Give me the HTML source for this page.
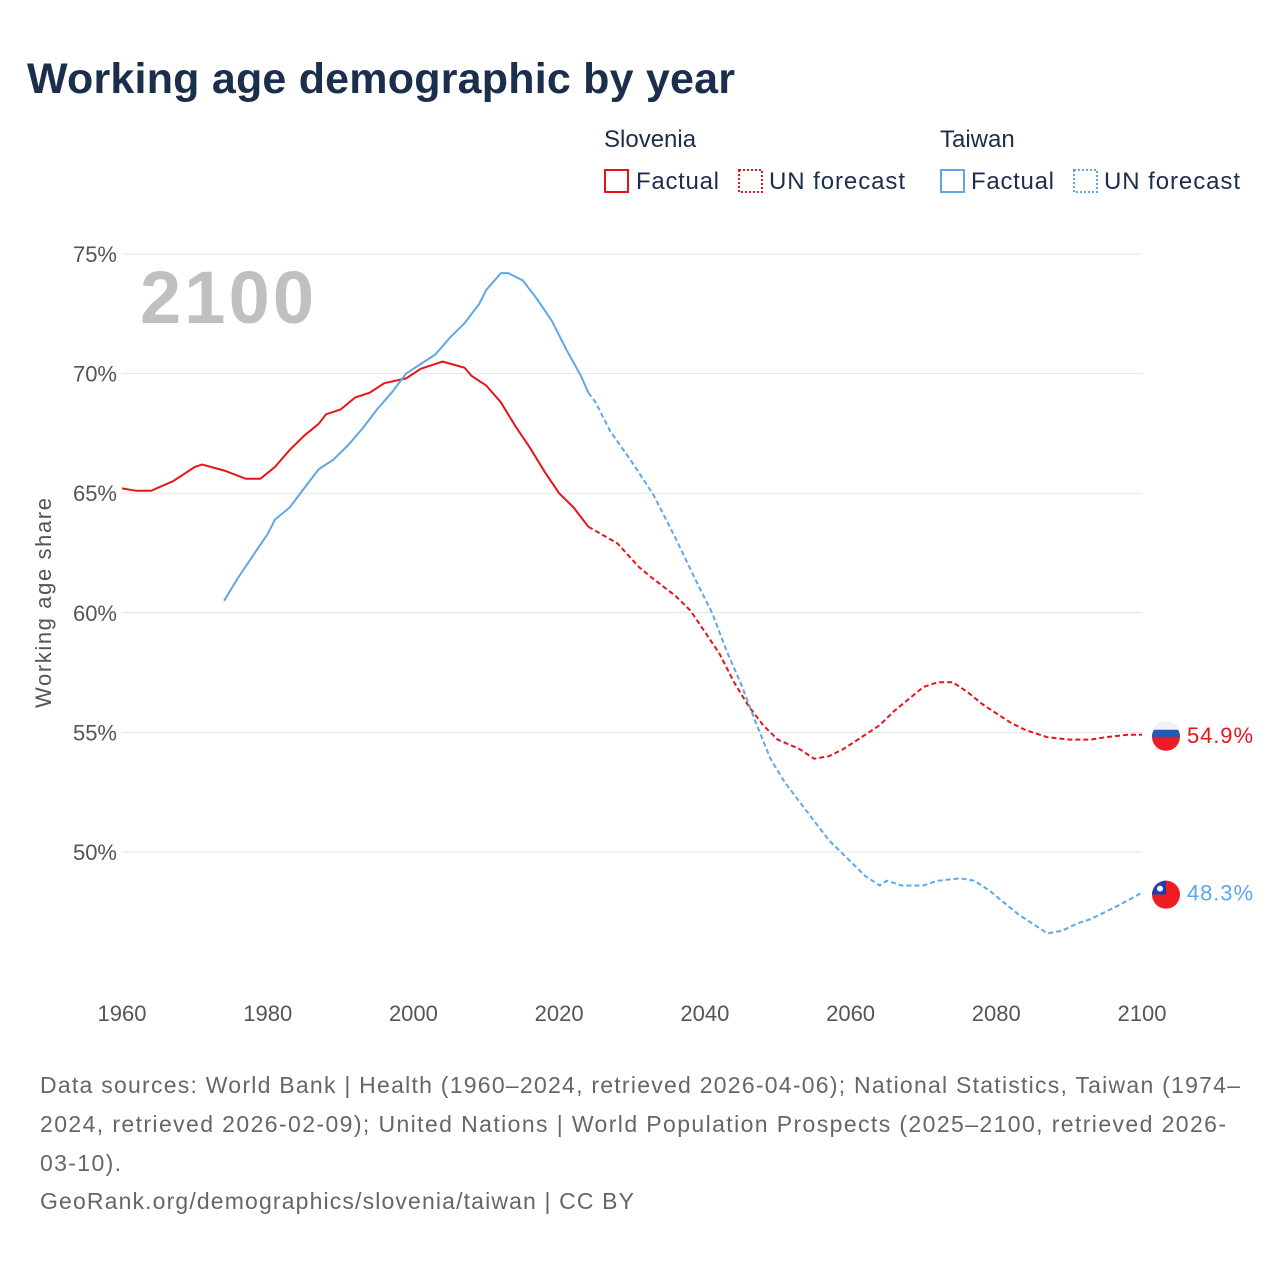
<!DOCTYPE html>
<html><head><meta charset="utf-8"><style>
body{margin:0;background:#fff;font-family:"Liberation Sans",sans-serif}
</style></head><body>
<svg id="c" width="1280" height="1280" xmlns="http://www.w3.org/2000/svg" style="font-family:'Liberation Sans',sans-serif">
<text x="27" y="93" font-size="43" font-weight="bold" fill="#1b2e4b" textLength="708">Working age demographic by year</text>
<g font-size="24" fill="#1b2e4b">
<text x="604" y="147">Slovenia</text>
<text x="940" y="147">Taiwan</text>
<rect x="605" y="170" width="23" height="22" fill="none" stroke="#e8141c" stroke-width="2"/>
<text x="636" y="189" textLength="83">Factual</text>
<rect x="739" y="170" width="23" height="22" fill="none" stroke="#e8141c" stroke-width="2" stroke-dasharray="2,2"/>
<text x="769" y="189" textLength="136">UN forecast</text>
<rect x="941" y="170" width="23" height="22" fill="none" stroke="#5ea8e8" stroke-width="2"/>
<text x="971" y="189" textLength="83">Factual</text>
<rect x="1074" y="170" width="23" height="22" fill="none" stroke="#5ea8e8" stroke-width="2" stroke-dasharray="2,2"/>
<text x="1104" y="189" textLength="136">UN forecast</text>
</g>
<g id="grid"></g>
<g id="yt" font-size="22" fill="#555" text-anchor="end"></g>
<g id="xt" font-size="22" fill="#555" text-anchor="middle"></g>
<text x="140" y="323" font-size="74" font-weight="bold" fill="#c0c0c0" textLength="174">2100</text>
<text transform="translate(51,603) rotate(-90)" font-size="22" fill="#555" text-anchor="middle" textLength="210">Working age share</text>
<g id="lines"></g>
<g font-size="23" fill="#666">
<text x="40" y="1093" textLength="1200">Data sources: World Bank | Health (1960–2024, retrieved 2026-04-06); National Statistics, Taiwan (1974–</text>
<text x="40" y="1132" textLength="1186">2024, retrieved 2026-02-09); United Nations | World Population Prospects (2025–2100, retrieved 2026-</text>
<text x="40" y="1171" textLength="81">03-10).</text>
<text x="40" y="1209" textLength="594">GeoRank.org/demographics/slovenia/taiwan | CC BY</text>
</g>
</svg>
<script>
const yTicks=[50,55,60,65,70,75];
const xTicks=[1960,1980,2000,2020,2040,2060,2080,2100];
const sloYears=[1960,1962,1964,1967,1970,1971,1974,1977,1979,1981,1983,1985,1987,1988,1990,1992,1994,1996,1999,2001,2004,2007,2008,2010,2012,2014,2016,2018,2020,2022,2023,2024,2028,2031,2033,2036,2038,2040,2042,2044,2046,2048,2050,2053,2055,2057,2059,2061,2064,2066,2068,2070,2072,2074,2076,2078,2080,2082,2084,2087,2090,2093,2095,2098,2100];
const sloValues=[65.2,65.1,65.1,65.5,66.1,66.2,65.95,65.6,65.6,66.1,66.8,67.4,67.9,68.3,68.5,69.0,69.2,69.6,69.8,70.2,70.5,70.25,69.9,69.5,68.8,67.8,66.9,65.9,65.0,64.4,64.0,63.6,62.9,61.9,61.4,60.7,60.1,59.2,58.3,57.1,56.1,55.3,54.7,54.3,53.9,54.0,54.3,54.7,55.3,55.9,56.4,56.9,57.1,57.1,56.7,56.2,55.8,55.4,55.1,54.8,54.7,54.7,54.8,54.9,54.9];
const twYears=[1974,1976,1978,1980,1981,1983,1985,1987,1989,1991,1993,1995,1997,1999,2001,2003,2005,2007,2009,2010,2012,2013,2015,2017,2019,2021,2023,2024,2025,2027,2030,2033,2036,2039,2041,2043,2045,2047,2049,2051,2053,2055,2057,2060,2062,2064,2065,2067,2070,2072,2075,2077,2079,2081,2083,2085,2087,2089,2091,2093,2095,2097,2100];
const twValues=[60.5,61.5,62.4,63.3,63.9,64.4,65.2,66.0,66.4,67.0,67.7,68.5,69.2,70.0,70.4,70.8,71.5,72.1,72.9,73.5,74.2,74.2,73.9,73.1,72.2,71.0,69.9,69.2,68.8,67.6,66.3,64.9,63.1,61.2,60.0,58.4,57.0,55.4,53.9,52.9,52.1,51.3,50.5,49.6,49.0,48.6,48.8,48.6,48.6,48.8,48.9,48.8,48.4,47.9,47.4,47.0,46.6,46.7,47.0,47.2,47.5,47.8,48.3];
const forecastStart=2024;
const X=y=>122+(y-1960)*(1020/140);
const Y=v=>852-(v-50)*(598/25);
const NS='http://www.w3.org/2000/svg';
function mk(t,a,p){const e=document.createElementNS(NS,t);for(const k in a)e.setAttribute(k,a[k]);p.appendChild(e);return e;}
const grid=document.getElementById('grid'),yt=document.getElementById('yt'),xt=document.getElementById('xt'),lines=document.getElementById('lines');
yTicks.forEach(v=>{const l=mk('line',{x1:122,x2:1142,y1:Y(v),y2:Y(v),stroke:'#e4e4e4','stroke-width':1},grid);


const t=mk('text',{x:117,y:Y(v)+8},yt);t.textContent=v+'%';

});
xTicks.forEach(v=>{const t=mk('text',{x:X(v),y:1021},xt);t.textContent=v;

});
function draw(ys,vs,col,name){
const f=[],p=[];ys.forEach((y,i)=>{const pt=X(y).toFixed(1)+','+Y(vs[i]).toFixed(1);if(y<=forecastStart)f.push(pt);if(y>=forecastStart)p.push(pt);});
if(ys[ys.length-1]>forecastStart&&!ys.includes(forecastStart)){const i=ys.findIndex(y=>y>forecastStart);p.unshift(X(ys[i-1]).toFixed(1)+','+Y(vs[i-1]).toFixed(1));}
const a=mk('polyline',{points:f.join(' '),fill:'none',stroke:col,'stroke-width':2},lines);


const b=mk('polyline',{points:p.join(' '),fill:'none',stroke:col,'stroke-width':2,'stroke-dasharray':'5,3'},lines);


const lv=vs[vs.length-1],cy=Y(lv);
const g=mk('g',{},lines);


return {cy,lv,g};}
const s=draw(sloYears,sloValues,'#e8141c','slovenia');
mk('circle',{cx:1166,cy:s.cy+2,r:14,fill:'#ee1c25'},s.g);
mk('path',{d:`M1152 ${s.cy+2} A14 14 0 0 1 1180 ${s.cy+2} Z`,fill:'#1f5bbf'},s.g);
mk('path',{d:`M1153 ${s.cy-5} A14 14 0 0 1 1179 ${s.cy-5} Z`,fill:'#f2f2f2'},s.g);
const st=mk('text',{x:1187,y:s.cy+8,'font-size':22,fill:'#e8141c',textLength:66},lines);st.textContent=s.lv.toFixed(1)+'%';


const t=draw(twYears,twValues,'#5ea8e8','taiwan');
mk('circle',{cx:1166,cy:t.cy+2,r:14,fill:'#ee1c25'},t.g);
mk('path',{d:`M1152 ${t.cy+2} A14 14 0 0 1 1166 ${t.cy-12} L1166 ${t.cy+2} Z`,fill:'#1f3ea8'},t.g);
mk('circle',{cx:1160,cy:t.cy-4,r:3,fill:'#fff'},t.g);
const tt=mk('text',{x:1187,y:t.cy+8,'font-size':22,fill:'#5ea8e8',textLength:66},lines);tt.textContent=t.lv.toFixed(1)+'%';


</script>
</body></html>
